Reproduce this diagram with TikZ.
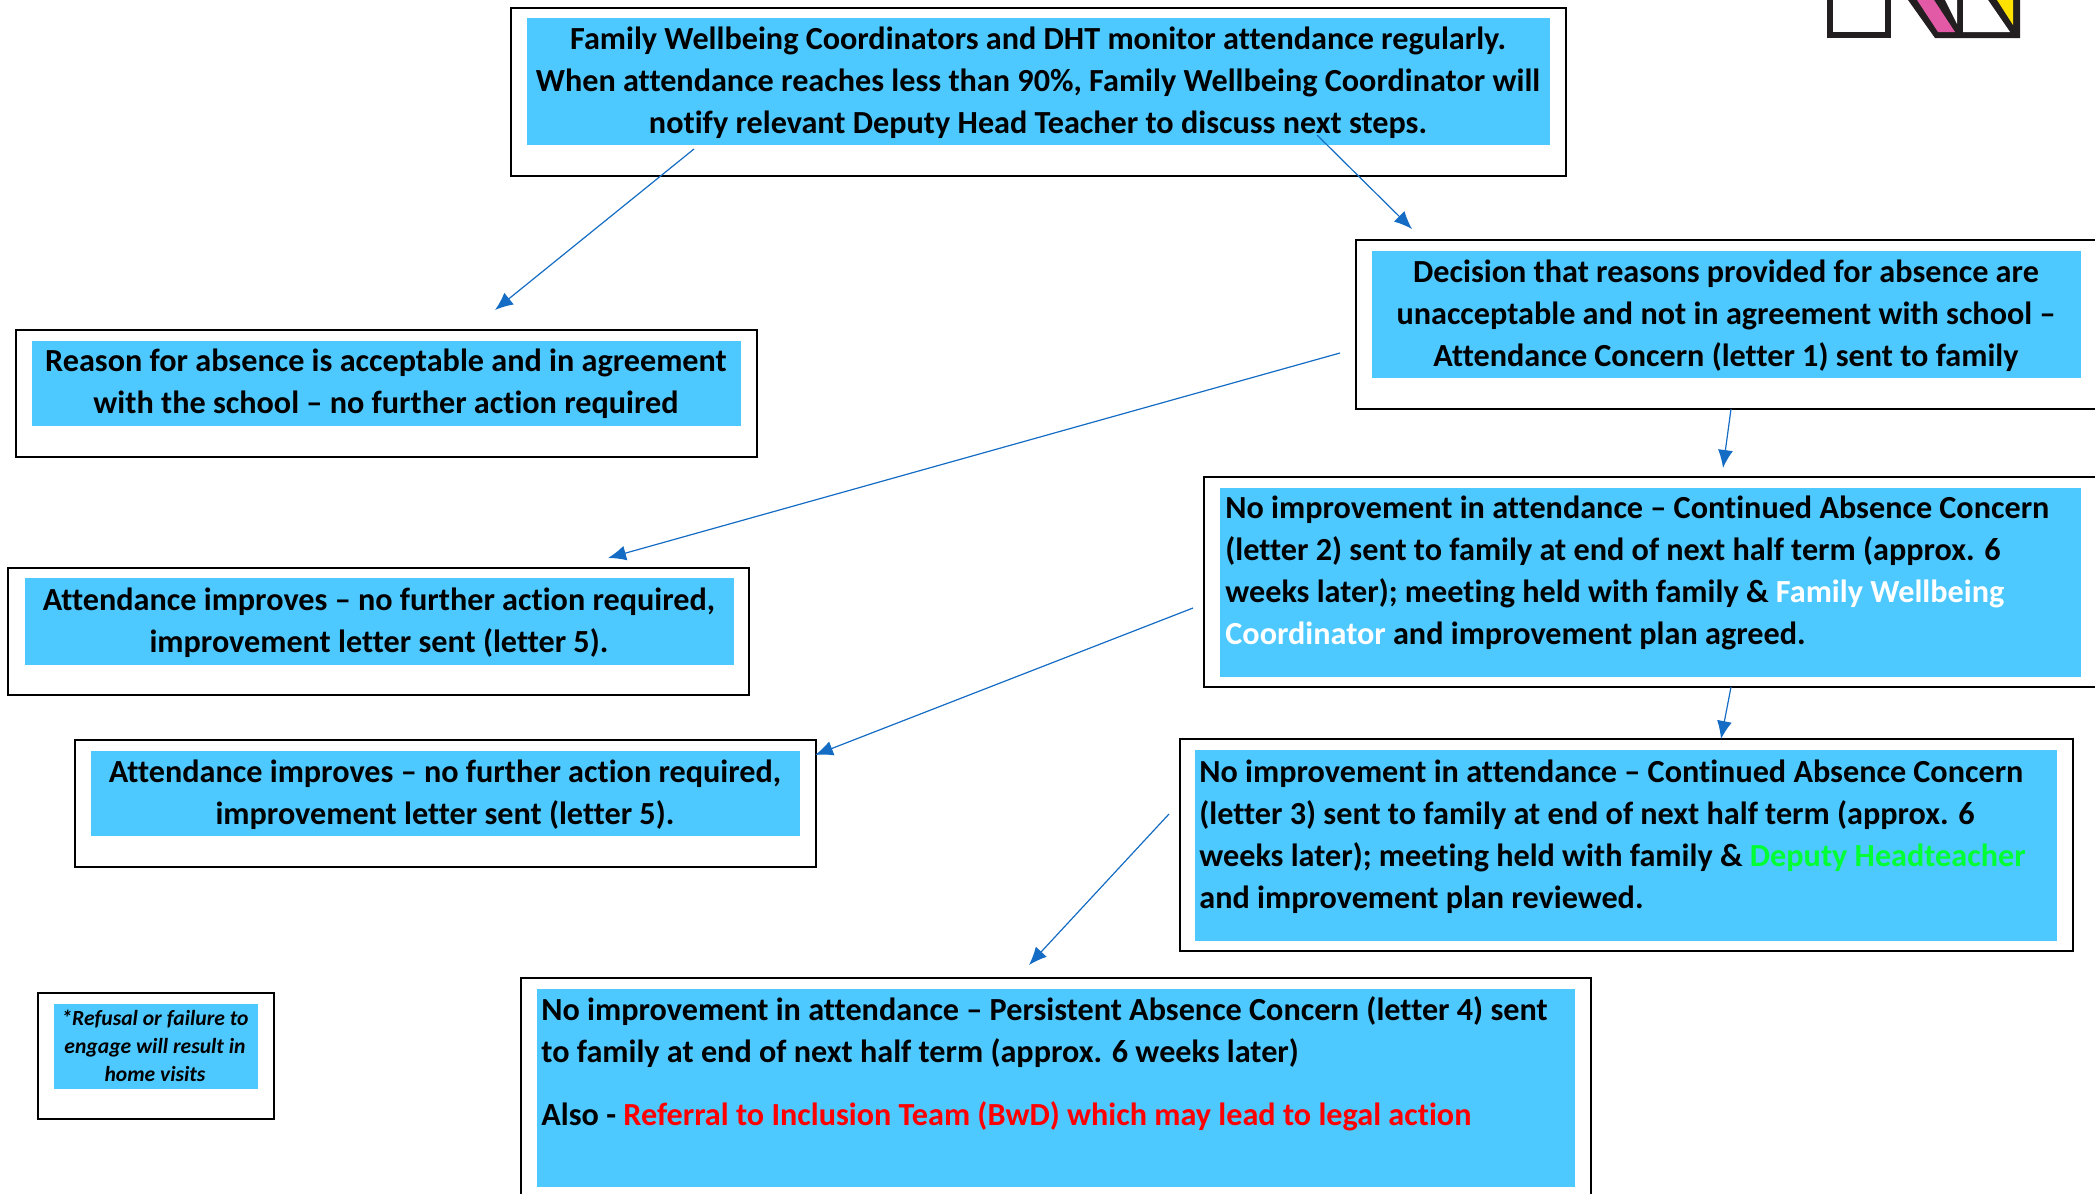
\documentclass[tikz,border=0pt]{standalone}
\usepackage{fontspec}
\setmainfont[Ligatures=NoCommon]{Carlito}
\usetikzlibrary{arrows.meta}
\definecolor{skyfill}{HTML}{4DC9FF}
\definecolor{arrowblue}{HTML}{156CC4}
\definecolor{greenword}{HTML}{00FF33}
\definecolor{logoblack}{HTML}{231F20}
\definecolor{logopink}{HTML}{E25AA5}
\definecolor{logoyellow}{HTML}{FFE100}
\tikzset{
  outerbox/.style={draw=black,line width=1.2pt,fill=white,inner sep=0pt,outer sep=0pt},
  bluebox/.style={fill=skyfill,inner sep=0pt,outer sep=0pt},
  bodytext/.style={inner sep=0pt,font=\fontsize{16.1}{21}\selectfont\bfseries},
  centertext/.style={bodytext,align=center,anchor=center},
  lefttext/.style={bodytext,align=left,anchor=west},
  notetext/.style={inner sep=0pt,align=center,font=\fontsize{10.8}{14}\selectfont\bfseries\itshape},
  flow/.style={draw=arrowblue,line width=0.6pt,-{Latex[length=9pt,width=7.5pt]}}
}
% name, x1, y1, x2, y2, style
\newcommand{\rectnode}[6]{\node[#6,minimum width={(#4-#2)*0.5pt},minimum height={(#5-#3)*0.5pt}] (#1) at ({(#2+#4)/2},{(#3+#5)/2}) {};}
\begin{document}
\begin{tikzpicture}[x=0.5pt,y=-0.5pt]
\useasboundingbox (0,0) rectangle (2095,1194);
\clip (0,0) rectangle (2095,1194);
% logo
\fill[logoblack] (1827,0) rectangle (1891,38);
\fill[white] (1833,0) rectangle (1885,32);
\fill[logoblack] (1908,0) -- (1935,38) -- (2020,38) -- (2020,0) -- cycle;
\fill[logopink] (1917,0) -- (1934,0) -- (1955,32) -- (1938,32) -- cycle;
\fill[white] (1945,0) -- (1957,0) -- (1957,24) -- cycle;
\fill[white] (1963,0) -- (1988,0) -- (2010,32) -- (1963,32) -- cycle;
\fill[logoyellow] (1997,0) -- (2013,0) -- (2013,25) -- cycle;
% outer frames and blue panels
\rectnode{topO}{511}{8}{1566}{176}{outerbox}
\rectnode{topB}{527}{18}{1550}{145}{bluebox}
\rectnode{decO}{1356}{240}{2120}{409}{outerbox}
\rectnode{decB}{1372}{251}{2081}{378}{bluebox}
\rectnode{reaO}{16}{330}{757}{457}{outerbox}
\rectnode{reaB}{32}{341}{741}{426}{bluebox}
\rectnode{impAO}{8}{568}{749}{695}{outerbox}
\rectnode{impAB}{25}{578}{734}{665}{bluebox}
\rectnode{impBO}{75}{740}{816}{867}{outerbox}
\rectnode{impBB}{91}{751}{800}{836}{bluebox}
\rectnode{letTO}{1204}{477}{2120}{687}{outerbox}
\rectnode{letTB}{1220}{488}{2081}{677}{bluebox}
\rectnode{letHO}{1180}{739}{2073}{951}{outerbox}
\rectnode{letHB}{1195}{750}{2057}{941}{bluebox}
\rectnode{perO}{521}{978}{1591}{1230}{outerbox}
\rectnode{perB}{537}{989}{1575}{1187}{bluebox}
\rectnode{noteO}{38}{993}{274}{1119}{outerbox}
\rectnode{noteB}{54}{1004}{258}{1089}{bluebox}
% text
\node[centertext] (topT) at (1038,83) {Family Wellbeing Coordinators and DHT monitor attendance regularly.\\When attendance reaches less than 90\%, Family Wellbeing Coordinator will\\notify relevant Deputy Head Teacher to discuss next steps.};
\node[centertext] (decT) at (1726,316) {Decision that reasons provided for absence are\\unacceptable and not in agreement with school --\\Attendance Concern (letter 1) sent to family};
\node[centertext] (reaT) at (386,384) {Reason for absence is acceptable and in agreement\\with the school -- no further action required};
\node[centertext] (impAT) at (379,623) {Attendance improves -- no further action required,\\improvement letter sent (letter 5).};
\node[centertext] (impBT) at (445,795) {Attendance improves -- no further action required,\\improvement letter sent (letter 5).};
\node[lefttext] (letTT) at (1225,573) {No improvement in attendance -- Continued Absence Concern\\(letter 2) sent to family at end of next half term (approx. 6\\weeks later); meeting held with family \& \textcolor{white}{Family Wellbeing}\\\textcolor{white}{Coordinator} and improvement plan agreed.};
\node[lefttext] (letHT) at (1199,837) {No improvement in attendance -- Continued Absence Concern\\(letter 3) sent to family at end of next half term (approx. 6\\weeks later); meeting held with family \& \textcolor{greenword}{Deputy Headteacher}\\and improvement plan reviewed.};
\node[lefttext] (perT) at (541,1032) {No improvement in attendance -- Persistent Absence Concern (letter 4) sent\\to family at end of next half term (approx. 6 weeks later)};
\node[lefttext] (perS) at (541,1116) {Also - \textcolor{red}{Referral to Inclusion Team (BwD) which may lead to legal action}};
\node[notetext] (noteT) at (155,1046) {*Refusal or failure to\\engage will result in\\home visits};
% connector ends
\coordinate (a1s) at (694,149); \coordinate (a1e) at (495,310);
\coordinate (a2s) at (1317,135); \coordinate (a2e) at (1412,229);
\coordinate (a3s) at (1340,353); \coordinate (a3e) at (608,558);
\coordinate (a4s) at (1731,409); \coordinate (a4e) at (1723,468);
\coordinate (a5s) at (1193,608); \coordinate (a5e) at (815,755);
\coordinate (a6s) at (1731,687); \coordinate (a6e) at (1721,739);
\coordinate (a7s) at (1169,814); \coordinate (a7e) at (1029,965);
\draw[flow] (a1s) -- (a1e);
\draw[flow] (a2s) -- (a2e);
\draw[flow] (a3s) -- (a3e);
\draw[flow] (a4s) -- (a4e);
\draw[flow] (a5s) -- (a5e);
\draw[flow] (a6s) -- (a6e);
\draw[flow] (a7s) -- (a7e);
\end{tikzpicture}
\end{document}
